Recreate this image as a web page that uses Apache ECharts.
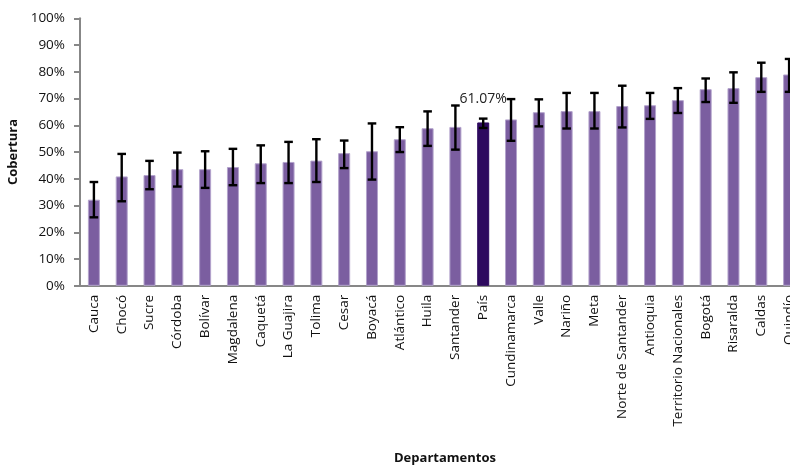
<!DOCTYPE html>
<html>
<head>
<meta charset="utf-8">
<script src="https://cdn.jsdelivr.net/npm/echarts@6/dist/echarts.min.js"></script>
<style>
html,body{margin:0;padding:0;background:#fff;}
#chart{width:790px;height:465px;}
</style>
</head>
<body>
<div id="chart"></div>
<script>
var categories = ['Cauca','Chocó','Sucre','Córdoba','Bolívar','Magdalena','Caquetá','La Guajira','Tolima','Cesar','Boyacá','Atlántico','Huila','Santander','País','Cundinamarca','Valle','Nariño','Meta','Norte de Santander','Antioquia','Territorio Nacionales','Bogotá','Risaralda','Caldas','Quindío'];
var coverage = [32.2,40.9,41.4,43.6,43.6,44.4,45.8,46.3,46.8,49.6,50.3,54.8,58.9,59.4,61.07,62.2,64.9,65.3,65.3,67.2,67.5,69.4,73.5,73.9,78.0,79.0];
var errLow  = [25.6,31.6,36.1,37.1,36.6,37.6,38.4,38.4,38.8,44.0,39.7,50.0,52.3,50.9,59.0,54.2,59.6,58.8,58.8,59.2,62.4,64.6,68.7,68.4,72.5,72.5];
var errHigh = [38.8,49.3,46.7,49.8,50.3,51.2,52.5,53.8,54.8,54.3,60.7,59.3,65.2,67.4,62.5,69.8,69.7,72.1,72.1,74.8,72.1,73.9,77.5,79.8,83.4,84.8];
var yTicks = [0,10,20,30,40,50,60,70,80,90,100];
var highlightName = 'País';

var FONT = 'Open Sans';
var barData = coverage.map(function(v, i){
  if (categories[i] === highlightName) {
    return {
      value: v,
      itemStyle: {color: '#2E0A5F', borderColor: '#2E0A5F'},
      label: {show: true, position: 'top', distance: 16, formatter: function(p){ return p.value.toFixed(2) + '%'; },
              color: '#222', fontFamily: FONT, fontSize: 14}
    };
  }
  return v;
});
var errData = categories.map(function(c, i){ return [i, errLow[i], errHigh[i]]; });

var chart = echarts.init(document.getElementById('chart'), null, {renderer: 'canvas'});
chart.setOption({
  animation: false,
  backgroundColor: '#fff',
  title: {
    text: 'Departamentos', left: 389, top: 447,
    textStyle: {fontFamily: FONT, fontSize: 13, fontWeight: 'bold', color: '#111'}
  },
  grid: {left: 80, top: 18.3, width: 723, height: 267.5, outerBoundsMode: 'none', containLabel: false},
  xAxis: {
    type: 'category',
    data: categories,
    axisLine: {lineStyle: {color: '#878787', width: 2}},
    axisTick: {show: false},
    axisLabel: {interval: 0, rotate: 90, margin: 9, color: '#111', fontFamily: FONT, fontSize: 13.5}
  },
  yAxis: {
    type: 'value', min: yTicks[0], max: yTicks[yTicks.length-1], interval: 10,
    name: 'Cobertura', nameLocation: 'middle', nameGap: 58, nameRotate: 90,
    nameTextStyle: {fontFamily: FONT, fontSize: 13, fontWeight: 'bold', color: '#111'},
    axisLine: {show: true, lineStyle: {color: '#878787', width: 2}},
    axisTick: {show: true, length: 6, lineStyle: {color: '#878787', width: 2}},
    splitLine: {show: false},
    axisLabel: {formatter: '{value}%', margin: 15, color: '#111', fontFamily: FONT, fontSize: 13.5}
  },
  series: [
    {
      type: 'bar', data: barData, barWidth: 12,
      itemStyle: {color: '#7B5EA0', borderColor: '#B3A3CC', borderWidth: 1}
    },
    {
      type: 'custom', data: errData, z: 10,
      encode: {x: 0, y: [1, 2]},
      renderItem: function(params, api){
        var x = api.value(0);
        var pHi = api.coord([x, api.value(2)]);
        var pLo = api.coord([x, api.value(1)]);
        var hw = 4.3;
        var st = {stroke: '#000', lineWidth: 2.4};
        return {type: 'group', children: [
          {type: 'line', shape: {x1: pHi[0], y1: pHi[1], x2: pLo[0], y2: pLo[1]}, style: st},
          {type: 'line', shape: {x1: pHi[0]-hw, y1: pHi[1], x2: pHi[0]+hw, y2: pHi[1]}, style: st},
          {type: 'line', shape: {x1: pLo[0]-hw, y1: pLo[1], x2: pLo[0]+hw, y2: pLo[1]}, style: st}
        ]};
      }
    }
  ]
});
</script>
</body>
</html>
